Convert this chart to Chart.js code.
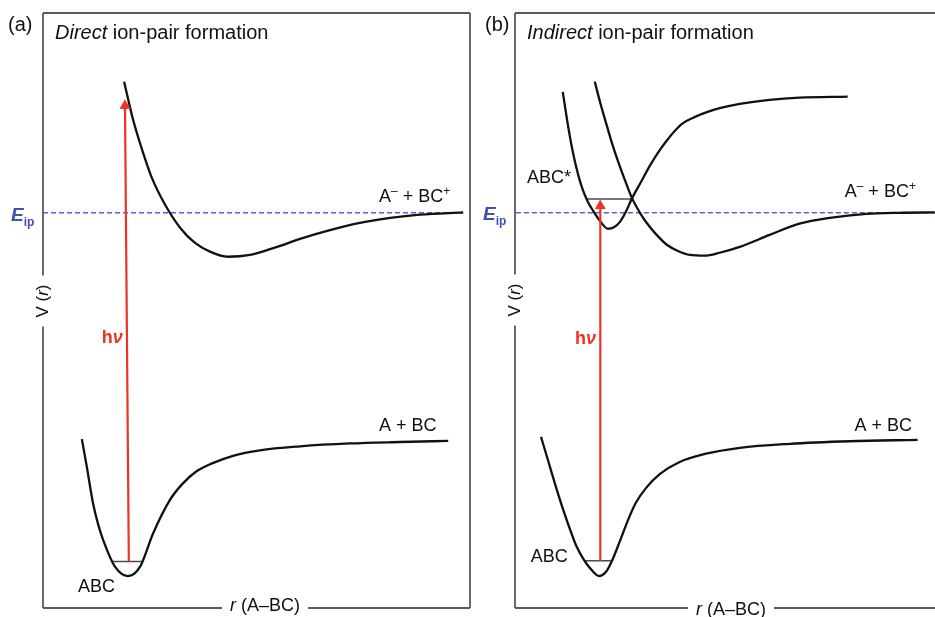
<!DOCTYPE html>
<html><head><meta charset="utf-8">
<script src="https://cdn.jsdelivr.net/npm/chart.js@4.4.0/dist/chart.umd.min.js"></script>
<style>
html,body{margin:0;padding:0;background:#fff;overflow:hidden;width:935px;height:617px;}
#wrap{position:relative;width:935px;height:617px;overflow:hidden;background:#fff;}
canvas{position:absolute;top:0;}
#ca{left:0;} #cb{left:478px;}
</style></head><body>
<div id="wrap"><canvas id="ca" width="478" height="617"></canvas><canvas id="cb" width="470" height="617"></canvas></div>
<script>
// ---------- data: r = A–BC distance (arb. units), V = energy (arb. units, ABC minimum = 0, E_ip = 10) ----------
const E_IP = 10;

// Panel (a): direct ion-pair formation
const aIonR = [1.90, 2.11, 2.32, 2.55, 2.86, 3.21, 3.56, 3.91, 4.33, 4.85, 5.43, 6.02, 6.72, 7.42, 8.13, 8.83, 9.84];
const aIonV = [13.61, 12.56, 11.74, 10.96, 10.22, 9.59, 9.17, 8.93, 8.79, 8.84, 9.04, 9.28, 9.52, 9.72, 9.86, 9.95, 10.01];
const aGndR = [0.91, 1.03, 1.17, 1.29, 1.41, 1.69, 1.99, 2.27, 2.58, 2.97, 3.26, 3.58, 3.96, 4.45, 5.08, 6.02, 7.19, 8.36, 9.49];
const aGndV = [3.77, 2.98, 2.01, 1.43, 0.99, 0.25, 0.00, 0.25, 1.18, 2.09, 2.53, 2.87, 3.10, 3.31, 3.46, 3.57, 3.65, 3.69, 3.72];
const aVibR = [1.61, 2.31];
const aVibV = [0.40, 0.40];
const aArrowR = [2.01, 1.92];
const aArrowV = [0.40, 12.95];
const aEipR = [0.0, 9.84];

// Panel (b): indirect ion-pair formation
const bExcR = [1.12, 1.24, 1.36, 1.48, 1.59, 1.71, 1.83, 1.99, 2.18, 2.32, 2.46, 2.60, 2.74, 2.95, 3.16, 3.35, 3.56, 3.75, 3.94, 4.22, 4.50, 4.80, 5.27, 5.97, 6.67, 7.80];
const bExcV = [13.33, 12.42, 11.65, 11.05, 10.63, 10.30, 10.06, 9.78, 9.56, 9.60, 9.75, 10.03, 10.39, 10.84, 11.29, 11.65, 11.99, 12.26, 12.47, 12.64, 12.77, 12.88, 13.00, 13.11, 13.17, 13.20];
const bIonR = [1.87, 2.01, 2.16, 2.30, 2.46, 2.60, 2.74, 2.93, 3.09, 3.30, 3.56, 3.82, 4.10, 4.45, 4.80, 5.27, 5.97, 6.67, 7.38, 8.24, 9.02, 9.84];
const bIonV = [13.61, 12.98, 12.37, 11.82, 11.27, 10.83, 10.41, 10.00, 9.72, 9.42, 9.12, 8.95, 8.84, 8.82, 8.90, 9.06, 9.39, 9.70, 9.86, 9.97, 10.00, 10.01];
const bGndR = [0.61, 0.77, 0.94, 1.10, 1.27, 1.43, 1.62, 1.78, 1.97, 2.13, 2.27, 2.46, 2.65, 2.83, 3.07, 3.40, 3.86, 4.45, 5.27, 6.44, 7.85, 9.44];
const bGndV = [3.83, 3.20, 2.53, 1.93, 1.35, 0.85, 0.44, 0.19, 0.00, 0.11, 0.41, 0.96, 1.54, 2.01, 2.42, 2.81, 3.14, 3.36, 3.53, 3.64, 3.71, 3.75];
const bVibExcR = [1.69, 2.74];
const bVibExcV = [10.38, 10.38];
const bVibGndR = [1.62, 2.27];
const bVibGndV = [0.42, 0.42];
const bArrowR = [2.00, 2.00];
const bArrowV = [0.42, 10.19];
const bEipR = [0.02, 10.0];

// ---------- helpers ----------
const F = '"Liberation Sans", Arial, Helvetica, sans-serif';
const RED = '#ee3326', BLUE = '#3f4fb3', DASH = '#5463c6', INK = '#111111', FRAME = '#5a5a5a';
const pts = (r, v) => r.map((x, i) => ({x, y: v[i]}));
const flat = (r, val) => r.map(x => ({x, y: val}));

function curve(r, v) {
  return {data: pts(r, v), showLine: true, borderColor: INK, borderWidth: 2.3,
          cubicInterpolationMode: 'monotone', pointRadius: 0};
}
function level(r, v) {
  return {data: pts(r, v), showLine: true, borderColor: '#4a4a4a', borderWidth: 1.5, pointRadius: 0};
}
function arrow(r, v) {
  return {data: pts(r, v), showLine: true, borderColor: RED, borderWidth: 2.2,
          pointRadius: [0, 5.5], pointStyle: 'triangle', pointBackgroundColor: RED,
          pointBorderColor: RED, pointBorderWidth: 1, pointRotation: -0.6};
}
function eip(r) {
  return {data: flat(r, E_IP), showLine: true, borderColor: DASH, borderWidth: 1.5,
          borderDash: [5, 3], pointRadius: 0};
}

function drawRich(ctx, parts, x, y, align) {
  let w = 0;
  parts.forEach(p => { ctx.font = p.f; p.w = ctx.measureText(p.t).width; w += p.w; });
  let cx = align === 'center' ? x - w / 2 : (align === 'right' ? x - w : x);
  parts.forEach(p => {
    ctx.font = p.f; ctx.fillStyle = p.c || INK;
    ctx.fillText(p.t, cx, y + (p.dy || 0)); cx += p.w;
  });
  return w;
}
const N = s => s + 'px ' + F;
const I = s => 'italic ' + s + 'px ' + F;
const B = s => 'bold ' + s + 'px ' + F;
const BI = s => 'italic bold ' + s + 'px ' + F;

const ION_LABEL = [{t: 'A', f: N(18)}, {t: '\u2013', f: N(12), dy: -7}, {t: ' + BC', f: N(18)}, {t: '+', f: N(12), dy: -7}];
const NEUT_LABEL = [{t: 'A + BC', f: N(18)}];
const ABC_LABEL = [{t: 'ABC', f: N(18)}];
const ABCX_LABEL = [{t: 'ABC*', f: N(18)}];
const HNU_LABEL = [{t: 'h', f: B(18), c: RED}, {t: '\u03BD', f: BI(18), c: RED}];
const EIP_LABEL = [{t: 'E', f: BI(19), c: BLUE}, {t: 'ip', f: B(12), c: BLUE, dy: 5}];
const VR_LABEL = [{t: 'V', f: N(17)}, {t: ' (', f: N(17)}, {t: 'r', f: I(17)}, {t: ')', f: N(17)}];
const RABC_LABEL = [{t: 'r', f: I(18)}, {t: ' (A\u2013BC)', f: N(18)}];

const deco = {
  id: 'deco',
  afterDatasetsDraw(chart, args, o) {
    const ctx = chart.ctx, ca = chart.chartArea, xs = chart.scales.x, ys = chart.scales.y;
    ctx.save();
    ctx.textAlign = 'left'; ctx.textBaseline = 'alphabetic';
    let wy = 0; VR_LABEL.forEach(p => { ctx.font = p.f; wy += ctx.measureText(p.t).width; });
    let wx = 0; RABC_LABEL.forEach(p => { ctx.font = p.f; wx += ctx.measureText(p.t).width; });
    const yc = o.yLabelY, xc = ca.left + o.xLabelDx;
    ctx.strokeStyle = FRAME; ctx.lineWidth = 1.8; ctx.lineCap = 'butt';
    ctx.beginPath();
    ctx.moveTo(ca.left, ca.top); ctx.lineTo(ca.right, ca.top);
    if (o.rightBorder) { ctx.moveTo(ca.right, ca.top); ctx.lineTo(ca.right, ca.bottom); }
    ctx.moveTo(ca.left, ca.top); ctx.lineTo(ca.left, yc - wy / 2 - 9);
    ctx.moveTo(ca.left, yc + wy / 2 + 9); ctx.lineTo(ca.left, ca.bottom);
    ctx.moveTo(ca.left, ca.bottom); ctx.lineTo(xc - wx / 2 - 8, ca.bottom);
    ctx.moveTo(xc + wx / 2 + 8, ca.bottom); ctx.lineTo(ca.right, ca.bottom);
    ctx.stroke();
    ctx.textBaseline = 'middle';
    drawRich(ctx, RABC_LABEL, xc, ca.bottom + o.xLabelDy, 'center');
    ctx.save(); ctx.translate(ca.left, yc); ctx.rotate(-Math.PI / 2);
    drawRich(ctx, VR_LABEL, 0, 0, 'center'); ctx.restore();
    ctx.textBaseline = 'alphabetic';
    drawRich(ctx, [{t: o.tag, f: N(20)}], ca.left + o.tagDx, ca.top + 18, 'left');
    drawRich(ctx, [{t: o.titleItalic, f: I(20)}, {t: ' ion-pair formation', f: N(20)}], ca.left + 12, ca.top + 26, 'left');
    drawRich(ctx, EIP_LABEL, ca.left - 32, ys.getPixelForValue(E_IP) + o.eipDy, 'left');
    o.notes.forEach(n => drawRich(ctx, n.parts, xs.getPixelForValue(n.r), ys.getPixelForValue(n.v), n.align || 'left'));
    ctx.restore();
  }
};

function makeChart(id, datasets, padding, decoOpts) {
  return new Chart(document.getElementById(id), {
    type: 'scatter',
    data: {datasets},
    options: {
      responsive: false, animation: false, devicePixelRatio: 1, events: [],
      layout: {padding},
      plugins: {legend: {display: false}, tooltip: {enabled: false}, deco: decoOpts},
      scales: {
        x: {type: 'linear', min: 0, max: 10, display: false},
        y: {type: 'linear', min: -0.88, max: 15.5, display: false}
      }
    },
    plugins: [deco]
  });
}

makeChart('ca', [
  arrow(aArrowR, aArrowV),
  curve(aIonR, aIonV),
  curve(aGndR, aGndV),
  level(aVibR, aVibV),
  eip(aEipR)
], {left: 43, right: 8, top: 13, bottom: 9}, {
  tag: '(a)', tagDx: -35, titleItalic: 'Direct', rightBorder: true,
  yLabelY: 301, xLabelDx: 222, xLabelDy: -2, eipDy: 8,
  notes: [
    {r: 7.87, v: 10.30, parts: ION_LABEL},
    {r: 7.87, v: 3.99, parts: NEUT_LABEL},
    {r: 0.82, v: -0.44, parts: ABC_LABEL},
    {r: 1.87, v: 6.42, parts: HNU_LABEL, align: 'right'}
  ]
});

makeChart('cb', [
  arrow(bArrowR, bArrowV),
  curve(bExcR, bExcV),
  curve(bIonR, bIonV),
  curve(bGndR, bGndV),
  level(bVibExcR, bVibExcV),
  level(bVibGndR, bVibGndV),
  eip(bEipR)
], {left: 37, right: 6, top: 13, bottom: 9}, {
  tag: '(b)', tagDx: -30, titleItalic: 'Indirect', rightBorder: false,
  yLabelY: 300, xLabelDx: 216, xLabelDy: 2, eipDy: 7,
  notes: [
    {r: 0.28, v: 10.83, parts: ABCX_LABEL},
    {r: 7.73, v: 10.44, parts: ION_LABEL},
    {r: 7.96, v: 3.99, parts: NEUT_LABEL},
    {r: 0.37, v: 0.39, parts: ABC_LABEL},
    {r: 1.90, v: 6.39, parts: HNU_LABEL, align: 'right'}
  ]
});
</script>
</body></html>
